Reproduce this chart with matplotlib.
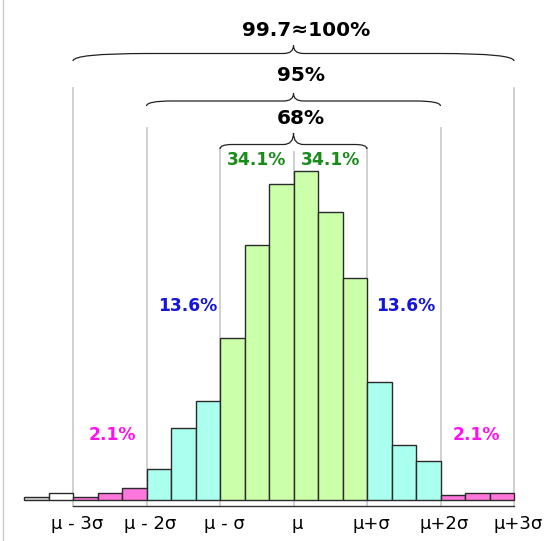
import numpy as np
from matplotlib import pyplot as plt
from matplotlib.path import Path
from matplotlib.patches import PathPatch

# histogram in units of sigma, bin width sigma/3
bin_left = [-11/3, -10/3, -3, -8/3, -7/3, -2, -5/3, -4/3, -1, -2/3, -1/3, 0, 1/3, 2/3,
            1, 4/3, 5/3, 2, 7/3, 8/3]
counts = [3, 7, 3, 7, 12, 31, 72, 99, 162, 255, 316, 329, 288, 221.5,
          118, 55, 39, 5, 7, 7]
bar_colors = ['#dddddd', '#ffffff', '#ff77dd', '#ff77dd', '#ff77dd',
              '#aaffee', '#aaffee', '#aaffee',
              '#ccffaa', '#ccffaa', '#ccffaa', '#ccffaa', '#ccffaa', '#ccffaa',
              '#aaffee', '#aaffee', '#aaffee', '#ff77dd', '#ff77dd', '#ff77dd']

tick_pos = [-3, -2, -1, 0, 1, 2, 3]
tick_labels = ['μ - 3σ', 'μ - 2σ', 'μ - σ', 'μ', 'μ+σ', 'μ+2σ', 'μ+3σ']
line_tops = [411.5, 371.5, 351.5, 347.5, 351.5, 371.5, 411.5]

# 1 sigma = 73.5 px, y data is in pixels above baseline
SIG = 73.5


def brace(ax, x0, x1, y, tip, cusp, r):
    # curly brace, tips pointing down, cusp pointing up
    xm = 0.5 * (x0 + x1)
    rc = 10 / SIG
    verts = [(x0, y - tip), (x0, y), (x0 + r, y),
             (xm - rc, y), (xm, y), (xm, y + cusp),
             (xm, y), (xm + rc, y),
             (x1 - r, y), (x1, y), (x1, y - tip)]
    codes = [Path.MOVETO, Path.CURVE3, Path.CURVE3,
             Path.LINETO, Path.CURVE3, Path.CURVE3,
             Path.CURVE3, Path.CURVE3,
             Path.LINETO, Path.CURVE3, Path.CURVE3]
    ax.add_patch(PathPatch(Path(verts, codes), fill=False, edgecolor='#222222', lw=0.9))


fig = plt.figure(figsize=(5.59, 5.41), dpi=100)
ax = fig.add_axes([0, 0, 1, 1])
ax.set_xlim(-293.5 / SIG, (559 - 293.5) / SIG)
ax.set_ylim(-41.5, 499.5)
ax.axis('off')

# border on the left
ax.axvline(-290.5 / SIG, color='#cccccc', lw=1)

# grey sigma lines
for p, top in zip(tick_pos, line_tops):
    ax.plot([p, p], [-6.5, top], color='#c8c8c8', lw=1.2, zorder=1)

ax.bar(bin_left, counts, width=1/3, align='edge', color=bar_colors,
       edgecolor='#2a2a2a', linewidth=1, zorder=2)

# x axis
ax.plot([-3, 3], [-6.5, -6.5], color='#333333', lw=1, zorder=3)
for p, lab in zip(tick_pos, tick_labels):
    ax.text(p + 4 / SIG, -24.5, lab, ha='center', va='center', fontsize=13)

# braces
brace(ax, -3, 3, 446, 7.5, 8, 75 / SIG)
brace(ax, -2, 2, 398.5, 5, 7.5, 25 / SIG)
brace(ax, -1, 1, 355, 4.5, 11.5, 12 / SIG)

ax.text(13 / SIG, 468.5, '99.7≈100%', ha='center', va='center', fontsize=14.5, fontweight='bold')
ax.text(7 / SIG, 424, '95%', ha='center', va='center', fontsize=14.5, fontweight='bold')
ax.text(7 / SIG, 381, '68%', ha='center', va='center', fontsize=14.5, fontweight='bold')

green = '#1a8c1a'
ax.text(-0.5, 339.5, '34.1%', ha='center', va='center', fontsize=12.3, fontweight='bold', color=green)
ax.text(0.5, 339.5, '34.1%', ha='center', va='center', fontsize=12.3, fontweight='bold', color=green)
blue = '#1414dc'
ax.text((187.5 - 293.5) / SIG, 193.5, '13.6%', ha='center', va='center', fontsize=12.3, fontweight='bold', color=blue)
ax.text((406 - 293.5) / SIG, 193.5, '13.6%', ha='center', va='center', fontsize=12.3, fontweight='bold', color=blue)
mag = '#ff10ee'
ax.text((112.7 - 293.5) / SIG, 64.5, '2.1%', ha='center', va='center', fontsize=12.3, fontweight='bold', color=mag)
ax.text((476 - 293.5) / SIG, 64.5, '2.1%', ha='center', va='center', fontsize=12.3, fontweight='bold', color=mag)

fig.savefig('out.png', dpi=100)
